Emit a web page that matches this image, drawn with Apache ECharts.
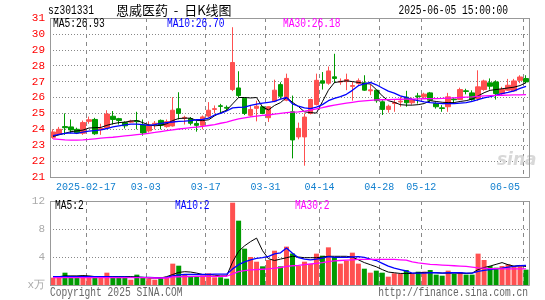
<!DOCTYPE html>
<html><head><meta charset="utf-8">
<script src="https://cdn.jsdelivr.net/npm/echarts@6/dist/echarts.min.js"></script>
<style>html,body{margin:0;padding:0;background:#fff}#c{width:545px;height:300px}</style>
</head><body><div id="c"></div>
<script>
const dates = ['2025-02-07','2025-02-10','2025-02-11','2025-02-12','2025-02-13','2025-02-14','2025-02-17','2025-02-18','2025-02-19','2025-02-20','2025-02-21','2025-02-24','2025-02-25','2025-02-26','2025-02-27','2025-02-28',
'2025-03-03','2025-03-04','2025-03-05','2025-03-06','2025-03-07','2025-03-10','2025-03-11','2025-03-12','2025-03-13','2025-03-14','2025-03-17','2025-03-18','2025-03-19','2025-03-20','2025-03-21','2025-03-24','2025-03-25','2025-03-26','2025-03-27','2025-03-28','2025-03-31',
'2025-04-01','2025-04-02','2025-04-03','2025-04-07','2025-04-08','2025-04-09','2025-04-10','2025-04-11','2025-04-14','2025-04-15','2025-04-16','2025-04-17','2025-04-18','2025-04-21','2025-04-22','2025-04-23','2025-04-24','2025-04-25','2025-04-28','2025-04-29','2025-04-30',
'2025-05-06','2025-05-07','2025-05-08','2025-05-09','2025-05-12','2025-05-13','2025-05-14','2025-05-15','2025-05-16','2025-05-19','2025-05-20','2025-05-21','2025-05-22','2025-05-23','2025-05-26','2025-05-27','2025-05-28','2025-05-29','2025-05-30',
'2025-06-03','2025-06-04','2025-06-05'];
const tickDates = ['2025-02-17','2025-03-03','2025-03-17','2025-03-31','2025-04-14','2025-04-28','2025-05-12','2025-06-05'];

const open  = [23.50,23.70,24.17,24.15,24.00,23.75,24.50,24.62,23.98,24.10,24.82,24.67,24.42,24.45,24.53,24.27,23.90,24.33,24.56,24.17,24.21,25.29,24.70,24.67,24.37,24.25,24.83,25.25,25.48,25.38,26.50,26.60,25.95,24.88,25.32,25.42,24.73,25.77,26.81,25.83,25.10,23.52,23.52,25.00,25.56,27.05,26.90,27.30,26.97,27.00,26.70,26.88,26.92,26.42,26.46,25.73,25.25,25.62,25.72,26.02,25.67,26.10,26.04,26.29,25.62,25.35,25.42,25.90,25.87,26.42,26.29,25.94,26.50,26.92,26.98,26.25,26.46,26.42,27.08,27.19];
const close = [23.83,24.00,24.10,23.96,23.78,24.42,24.60,23.72,24.05,24.96,24.62,24.55,24.22,24.52,24.48,23.77,24.25,24.38,24.25,24.48,25.20,25.00,24.75,24.38,24.25,24.78,25.20,25.30,25.44,25.33,28.20,26.12,25.00,25.25,25.45,25.00,25.42,26.46,26.08,27.20,23.33,24.06,24.77,25.87,27.08,26.90,27.67,27.20,27.02,27.13,26.75,27.05,26.46,26.48,25.80,25.25,25.45,25.68,25.77,25.67,25.87,26.05,26.21,25.83,25.42,25.31,26.04,25.86,26.50,26.38,25.87,26.67,27.04,26.71,26.25,26.50,26.77,27.04,27.29,26.98];
const high  = [24.00,24.15,25.00,24.62,24.10,24.55,24.80,24.72,24.35,25.20,25.15,24.72,24.50,24.60,25.10,24.62,24.50,24.52,24.62,24.62,26.02,26.33,24.85,24.77,24.52,24.87,25.71,25.50,25.60,25.50,30.42,27.65,26.00,25.50,25.80,25.45,25.45,27.12,26.96,27.50,26.12,24.42,25.00,25.92,27.50,27.60,27.95,28.75,27.20,27.50,27.00,27.20,27.40,26.83,26.50,25.83,25.55,25.85,26.04,26.42,26.00,26.29,26.30,26.35,25.70,25.52,26.29,26.00,26.62,26.55,26.45,27.71,27.12,27.20,27.08,26.67,27.17,27.17,27.40,27.40];
const low   = [23.40,23.65,23.65,23.75,23.70,23.65,24.35,23.65,23.65,24.05,24.30,24.30,24.05,24.40,24.00,23.60,23.80,24.00,24.00,24.10,24.17,24.62,24.30,24.25,23.85,24.00,24.73,25.00,25.04,25.15,26.40,25.98,24.90,24.80,24.50,24.95,24.46,25.70,25.92,25.77,22.17,23.37,21.71,24.94,25.50,26.50,26.80,26.90,26.80,26.46,25.80,26.80,26.42,26.15,25.67,24.90,25.05,25.10,25.42,25.42,25.55,25.62,25.95,25.73,25.30,25.10,25.10,25.60,25.85,26.20,25.80,25.80,26.42,26.50,25.87,26.15,26.42,26.37,26.90,26.90];
const volume = [1.05,1.05,1.76,1.05,1.05,1.05,1.05,1.05,1.05,1.76,1.05,1.05,1.05,0.76,1.48,1.05,0.90,0.76,1.00,1.05,3.05,2.76,1.48,1.24,1.24,1.38,1.67,1.10,1.10,0.90,11.76,9.19,5.19,4.00,3.33,2.67,3.57,4.90,2.67,5.48,4.50,2.71,3.33,3.00,4.48,4.19,5.38,4.00,3.05,3.48,4.62,3.05,2.33,1.76,2.05,1.76,1.19,1.67,1.57,2.14,1.57,1.90,1.90,2.14,1.48,1.33,2.05,1.57,1.86,1.48,1.48,4.48,3.57,2.71,2.48,2.71,2.95,2.71,2.71,2.19];

const ma5  = [23.55,23.65,23.75,23.85,23.90,23.95,24.08,24.10,24.12,24.25,24.35,24.42,24.45,24.52,24.55,24.42,24.28,24.22,24.25,24.35,24.55,24.68,24.70,24.70,24.55,24.55,24.60,24.85,25.05,25.20,25.60,26.00,26.00,25.97,26.00,25.40,25.22,25.50,25.68,26.00,25.70,25.43,25.10,25.05,25.02,25.74,26.46,26.94,27.00,27.05,27.00,26.95,26.88,26.85,26.50,26.10,25.80,25.70,25.55,25.52,25.52,25.55,25.62,25.80,25.75,25.70,25.68,25.68,25.75,25.80,25.90,26.10,26.30,26.45,26.50,26.55,26.60,26.65,26.75,26.93];
const ma10 = [23.60,23.68,23.75,23.78,23.75,23.82,23.88,23.92,23.96,24.05,24.15,24.22,24.28,24.32,24.33,24.30,24.25,24.30,24.37,24.42,24.46,24.50,24.52,24.55,24.60,24.62,24.70,24.90,25.00,25.15,25.35,25.38,25.40,25.50,25.58,25.65,25.70,25.75,25.90,26.00,25.60,25.45,25.35,25.30,25.40,25.55,25.80,25.95,26.05,26.20,26.45,26.74,26.85,26.95,26.80,26.60,26.40,26.28,26.10,26.00,25.88,25.80,25.73,25.68,25.65,25.62,25.62,25.62,25.65,25.68,25.75,25.87,25.98,26.05,26.15,26.25,26.32,26.42,26.58,26.70];
const ma30 = [23.40,23.37,23.33,23.32,23.32,23.33,23.36,23.40,23.44,23.47,23.50,23.54,23.58,23.62,23.66,23.70,23.75,23.80,23.86,23.92,23.97,24.02,24.06,24.10,24.14,24.18,24.24,24.30,24.38,24.45,24.56,24.65,24.72,24.78,24.83,24.87,24.90,24.95,25.00,25.05,25.08,25.10,25.14,25.20,25.28,25.36,25.45,25.52,25.58,25.64,25.70,25.75,25.79,25.82,25.85,25.86,25.87,25.88,25.89,25.90,25.90,25.91,25.92,25.93,25.93,25.94,25.96,25.98,26.00,26.02,26.04,26.07,26.10,26.12,26.13,26.14,26.15,26.16,26.17,26.18];
const volMa5  = [1.20,1.20,1.30,1.30,1.30,1.35,1.30,1.20,1.20,1.20,1.20,1.20,1.20,1.20,1.15,1.10,1.00,1.00,1.00,1.20,1.50,1.80,1.90,1.85,1.70,1.50,1.50,1.40,1.30,1.30,3.30,4.80,5.60,6.20,6.70,4.90,3.75,3.50,3.70,3.90,4.10,4.00,3.90,3.90,3.90,4.00,4.10,4.10,4.10,4.10,4.00,3.60,3.20,2.90,2.60,2.20,1.85,1.75,1.65,1.65,1.65,1.75,1.80,1.80,1.75,1.70,1.70,1.70,1.70,1.65,1.70,2.20,2.50,2.70,2.95,3.20,2.90,2.70,2.80,2.64];
const volMa10 = [1.20,1.20,1.20,1.20,1.20,1.20,1.20,1.20,1.20,1.20,1.15,1.15,1.15,1.10,1.10,1.10,1.10,1.05,1.05,1.10,1.30,1.45,1.50,1.50,1.50,1.50,1.50,1.55,1.55,1.55,2.30,2.90,3.30,3.60,3.80,3.90,4.10,4.45,4.60,5.30,4.55,3.90,3.70,3.60,3.70,3.85,4.05,3.95,3.95,3.95,4.00,4.05,3.95,3.70,3.50,3.10,2.70,2.40,2.20,2.00,1.70,1.70,1.70,1.75,1.75,1.70,1.75,1.75,1.75,1.70,1.70,1.95,2.10,2.20,2.30,2.40,2.55,2.65,2.75,2.80];
const volMa30 = [1.05,1.05,1.05,1.05,1.05,1.05,1.05,1.05,1.05,1.05,1.05,1.05,1.05,1.05,1.05,1.05,1.05,1.00,1.00,1.00,1.15,1.18,1.20,1.20,1.22,1.22,1.23,1.24,1.25,1.25,1.60,1.90,2.05,2.15,2.20,2.25,2.30,2.40,2.50,2.65,2.75,2.80,2.90,3.00,3.10,3.20,3.35,3.45,3.50,3.55,3.60,3.65,3.65,3.65,3.65,3.65,3.65,3.65,3.60,3.55,3.30,3.15,3.05,2.95,2.90,2.85,2.80,2.75,2.70,2.65,2.55,2.45,2.40,2.35,2.35,2.30,2.30,2.30,2.30,2.30];

const UP = '#ff5050', DOWN = '#009a00';
const MONO = 'Liberation Mono';
const candles = dates.map((d, i) => [open[i], close[i], low[i], high[i]]);
const vols = volume.map((v, i) => ({ value: v, itemStyle: { color: close[i] >= open[i] ? UP : DOWN } }));
const tickIdx = tickDates.map(d => dates.indexOf(d));
const isTick = (i) => tickIdx.indexOf(i) >= 0;

function xAxisBase(gi, showLabel) {
  return {
    type: 'category', gridIndex: gi, data: dates, boundaryGap: true,
    axisLine: { show: false },
    axisTick: { show: false, interval: isTick },
    axisLabel: {
      show: showLabel, interval: isTick,
      formatter: (v) => v === tickDates[0] ? v : v.slice(5),
      color: '#1380cf', fontFamily: MONO, fontSize: 10, margin: 5,
      padding: [0, 6, 0, 0], alignMaxLabel: 'right'
    },
    splitLine: { show: true, interval: isTick, lineStyle: { color: '#888', type: [4, 4], width: 1 } }
  };
}

function txt(x, y, s, color, align, size, scale) {
  return { type: 'text', x: x, y: y, scaleX: scale || 0.8, style: { text: s, fill: color, font: (size || 12) + 'px "Liberation Mono", monospace', textAlign: align || 'left', textVerticalAlign: 'middle' }, z: 100 };
}
function frame(x, y, w, h) {
  return { type: 'rect', shape: { x: x + 0.5, y: y + 0.5, width: w, height: h }, style: { fill: null, stroke: '#999', lineWidth: 1 }, z: 50, silent: true };
}

const chart = echarts.init(document.getElementById('c'));
chart.setOption({
  animation: false,
  grid: [
    { left: 50, top: 18, width: 479, height: 159 },
    { left: 50, top: 201, width: 479, height: 84 }
  ],
  xAxis: [xAxisBase(0, true), xAxisBase(1, false)],
  yAxis: [
    { type: 'value', gridIndex: 0, min: 21, max: 31, interval: 1,
      axisLabel: { color: '#f00', fontFamily: MONO, fontSize: 11, margin: 5 },
      splitLine: { show: true, lineStyle: { color: '#888', type: [1, 2], width: 1 } } },
    { type: 'value', gridIndex: 1, min: 0, max: 12, interval: 4,
      axisLabel: { color: '#aaa', fontFamily: MONO, fontSize: 11, margin: 5, formatter: (v) => v === 0 ? 'x万' : String(v) },
      splitLine: { show: true, lineStyle: { color: '#888', type: [1, 2], width: 1 } } }
  ],
  series: [
    { type: 'candlestick', xAxisIndex: 0, yAxisIndex: 0, data: candles, barWidth: 5,
      itemStyle: { color: UP, color0: DOWN, borderColor: UP, borderColor0: DOWN, borderWidth: 1 } },
    { type: 'line', xAxisIndex: 0, yAxisIndex: 0, data: ma5, symbol: 'none', lineStyle: { color: '#000', width: 1 }, z: 3 },
    { type: 'line', xAxisIndex: 0, yAxisIndex: 0, data: ma10, symbol: 'none', lineStyle: { color: '#0000ff', width: 1.3 }, z: 3 },
    { type: 'line', xAxisIndex: 0, yAxisIndex: 0, data: ma30, symbol: 'none', lineStyle: { color: '#ff00ff', width: 1.3 }, z: 3 },
    { type: 'bar', xAxisIndex: 1, yAxisIndex: 1, data: vols, barWidth: 5 },
    { type: 'line', xAxisIndex: 1, yAxisIndex: 1, data: volMa5, symbol: 'none', lineStyle: { color: '#000', width: 1 }, z: 3 },
    { type: 'line', xAxisIndex: 1, yAxisIndex: 1, data: volMa10, symbol: 'none', lineStyle: { color: '#0000ff', width: 1.3 }, z: 3 },
    { type: 'line', xAxisIndex: 1, yAxisIndex: 1, data: volMa30, symbol: 'none', lineStyle: { color: '#ff00ff', width: 1.3 }, z: 3 }
  ],
  graphic: [
    frame(50, 18, 479, 159),
    frame(50, 201, 479, 84),
    txt(48, 11, 'sz301331', '#000'),
    { type: 'text', x: 116, y: 10, style: { text: '恩威医药  -  日K线图', fill: '#000', font: '13px "Noto Sans CJK SC", sans-serif', textVerticalAlign: 'middle' }, z: 100 },
    txt(508, 11, '2025-06-05 15:00:00', '#000', 'right'),
    txt(53, 24, 'MA5:26.93', '#000'),
    txt(167, 24, 'MA10:26.70', '#0000ff'),
    txt(283, 24, 'MA30:26.18', '#ff00ff'),
    txt(55, 206, 'MA5:2', '#000'),
    txt(175, 206, 'MA10:2', '#0000ff'),
    txt(295, 206, 'MA30:2', '#ff00ff'),
    txt(50, 293, 'Copyright 2025 SINA.COM', '#666'),
    txt(528, 293, 'http://finance.sina.com.cn', '#666', 'right'),
    { type: 'text', x: 497, y: 161, style: { text: 'sina', fill: '#d8d8d8', font: 'italic bold 17px "DejaVu Sans", sans-serif', textVerticalAlign: 'middle' }, z: 1 }
  ]
});
</script></body></html>
